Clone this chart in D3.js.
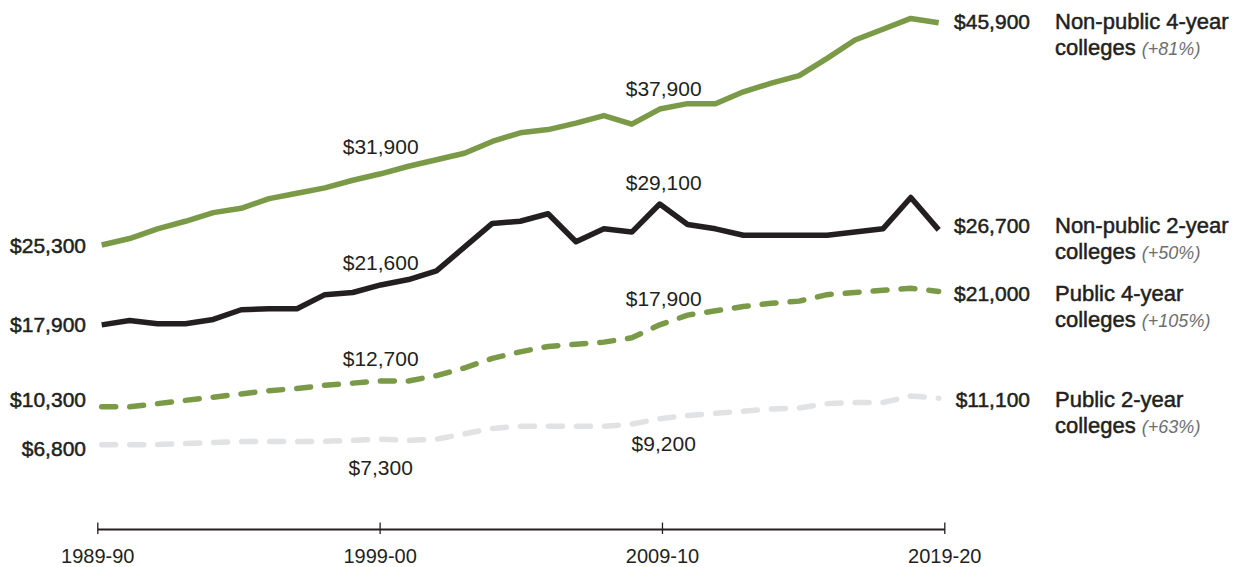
<!DOCTYPE html>
<html>
<head>
<meta charset="utf-8">
<script src="https://cdn.jsdelivr.net/npm/d3@7"></script>
<style>
  html, body { margin: 0; padding: 0; background: #ffffff; }
  svg { display: block; font-family: "Liberation Sans", Arial, sans-serif; }
</style>
</head>
<body>
<svg id="chart" width="1243" height="567"></svg>
<script>
// ---- Data ----
const years = ["1989-90","1990-91","1991-92","1992-93","1993-94","1994-95","1995-96","1996-97","1997-98","1998-99",
  "1999-00","2000-01","2001-02","2002-03","2003-04","2004-05","2005-06","2006-07","2007-08","2008-09",
  "2009-10","2010-11","2011-12","2012-13","2013-14","2014-15","2015-16","2016-17","2017-18","2018-19","2019-20"];

const nonPublic4 = [25300,25900,26800,27500,28300,28700,29600,30100,30600,31300,
  31900,32600,33200,33800,34900,35700,36000,36600,37300,36500,
  37900,38400,38400,39500,40300,41000,42600,44300,45300,46300,45900];

const nonPublic2 = [17900,18300,18000,18000,18400,19300,19400,19400,20700,20900,
  21600,22100,22900,25100,27300,27500,28200,25600,26800,26500,
  29100,27200,26800,26200,26200,26200,26200,26500,26800,29700,26700];

const public4 = [10300,10300,10600,10900,11200,11500,11800,12000,12300,12500,
  12700,12700,13200,13900,14800,15400,15900,16100,16300,16700,
  17900,18800,19200,19600,19900,20100,20700,20900,21100,21300,21000];

const public2 = [6800,6800,6800,6900,7000,7100,7100,7100,7100,7200,
  7300,7200,7300,7800,8300,8500,8500,8500,8500,8700,
  9200,9500,9700,9900,10100,10200,10600,10700,10700,11300,11100];

const tickYears = ["1989-90","1999-00","2009-10","2019-20"];

const seriesNames = ["Non-public 4-year", "Non-public 2-year", "Public 4-year", "Public 2-year"];
const seriesChange = ["(+81%)", "(+50%)", "(+105%)", "(+63%)"];

// annotations in the middle: [series index, year index, offset]
const midNotes = [
  [0, 10, -20], [0, 20, -13],
  [1, 10, -15], [1, 20, -14],
  [2, 10, -15], [2, 20, -19],
  [3, 10, 36],  [3, 20, 32]
];

// ---- Styles ----
const colors = ["#7a9a48", "#231f20", "#7a9a48", "#e1e2e4"];
const dashed = [false, false, true, true];
const leftDy = [8, 7, 0, 11];
const rightDy = [6, 3, 10, 9];
const textColor = "#231f20";

const allSeries = [nonPublic4, nonPublic2, public4, public2];

const svg = d3.select("#chart");

const x = d3.scaleLinear().domain([0, years.length - 1]).range([101.7, 938.7]);
const xAxisScale = d3.scaleLinear().domain([0, years.length - 1]).range([97.3, 944.3]);
const y = d3.scaleLinear().domain([0, 50000]).range([518, -21.5]);

const fmt = v => "$" + d3.format(",")(v);

// ---- Axis ----
const axis = d3.axisBottom(xAxisScale)
  .tickValues(tickYears.map(t => years.indexOf(t)))
  .tickFormat(i => years[i])
  .tickSizeInner(5)
  .tickSizeOuter(0);

const gAxis = svg.append("g").attr("transform", "translate(0,529)").call(axis);
gAxis.select(".domain").attr("stroke", "#231f20").attr("stroke-width", 2.2);
gAxis.selectAll(".tick line").attr("y1", -6.5).attr("y2", 5).attr("stroke", "#231f20").attr("stroke-width", 1.3);
gAxis.selectAll(".tick text")
  .attr("y", 34).attr("dy", 0)
  .attr("fill", textColor)
  .style("font-size", "20px")
  .style("font-family", "'Liberation Sans', Arial, sans-serif");

// ---- Lines ----
const line = d3.line().x((d, i) => x(i)).y(d => y(d));

[3, 2, 1, 0].forEach(s => {
  svg.append("path")
    .datum(allSeries[s])
    .attr("d", line)
    .attr("fill", "none")
    .attr("stroke", colors[s])
    .attr("stroke-width", 5.5)
    .attr("stroke-linejoin", "round")
    .attr("stroke-linecap", dashed[s] ? "round" : "butt")
    .attr("stroke-dasharray", dashed[s] ? "14,14" : null);
});

// ---- Left labels ----
allSeries.forEach((arr, s) => {
  svg.append("text")
    .attr("x", 86)
    .attr("y", y(arr[0]) + leftDy[s])
    .attr("text-anchor", "end")
    .attr("fill", textColor)
    .attr("stroke", textColor).attr("stroke-width", 0.5)
    .style("font-size", "21px")
    .text(fmt(arr[0]));
});

// ---- Middle annotations ----
midNotes.forEach(([s, i, dy]) => {
  svg.append("text")
    .attr("x", x(i) + (i === 20 ? 4 : 0))
    .attr("y", y(allSeries[s][i]) + dy)
    .attr("text-anchor", "middle")
    .attr("fill", textColor)
    .style("font-size", "21px")
    .text(fmt(allSeries[s][i]));
});

// ---- Right labels ----
allSeries.forEach((arr, s) => {
  const last = arr[arr.length - 1];
  const by = y(last) + rightDy[s];
  svg.append("text")
    .attr("x", 1030)
    .attr("y", by)
    .attr("text-anchor", "end")
    .attr("fill", textColor)
    .attr("stroke", textColor).attr("stroke-width", 0.5)
    .style("font-size", "21px")
    .text(fmt(last));

  svg.append("text")
    .attr("x", 1055)
    .attr("y", by)
    .attr("fill", textColor)
    .attr("stroke", textColor).attr("stroke-width", 0.5)
    .style("font-size", "22px")
    .text(seriesNames[s]);

  const t2 = svg.append("text")
    .attr("x", 1055)
    .attr("y", by + 26)
    .attr("fill", textColor)
    .style("font-size", "22px");
  t2.append("tspan").attr("stroke", textColor).attr("stroke-width", 0.5).text("colleges ");
  t2.append("tspan")
    .attr("fill", "#6d6e71")
    .style("font-style", "italic")
    .style("font-size", "18px")
    .text(seriesChange[s]);
});
</script>
</body>
</html>
